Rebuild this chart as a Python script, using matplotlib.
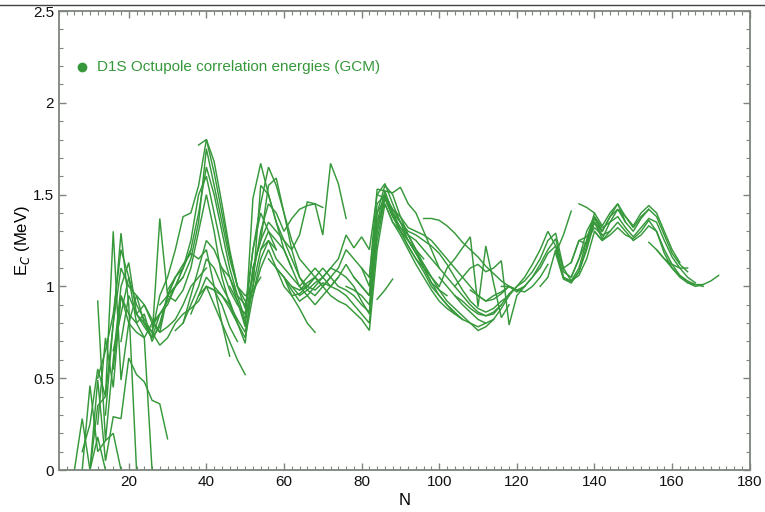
import numpy as np
import matplotlib
matplotlib.use('Agg')
from matplotlib import pyplot as plt
from matplotlib.lines import Line2D
from matplotlib.ticker import MultipleLocator

plt.rcParams['font.family'] = ['Liberation Sans', 'DejaVu Sans']

GREEN = '#36983a'
FRAME = '#7d857d'

# isotopic chains: (first neutron number, correlation energies in MeV at N, N+2, ...)
z08 = (6, [0.00, 0.28, 0.00, 0.18, 0.00])
z09 = (8, [0.00, 0.46, 0.10, 0.16, 0.20, 0.00])
z10 = (10, [0.00, 0.49, 0.05, 0.29, 0.28, 0.61, 0.52, 0.48, 0.38, 0.36, 0.17])
z11 = (12, [0.25, 0.72, 0.45, 0.95, 0.85, 0.80, 0.72, 0.00])
z12 = (8, [0.10, 0.25, 0.55, 0.40, 1.30, 0.49, 0.80, 0.75, 0.72, 0.80, 0.85])
z14 = (10, [0.00, 0.35, 0.40, 0.80, 1.29, 0.90, 0.00])
z16 = (12, [0.92, 0.16, 0.60, 1.00, 1.13, 0.85, 0.90, 0.80, 0.75, 0.95, 1.05])
z18 = (12, [0.50, 0.65, 0.85, 1.20, 1.05, 0.80, 0.85, 0.70, 0.80, 0.95, 1.00, 1.05])
z20 = (14, [0.30, 0.80, 1.10, 1.00, 0.95, 0.80, 0.72, 0.85, 0.90, 1.00, 1.10, 1.20])
z22 = (16, [0.55, 0.95, 0.80, 0.95, 0.90, 0.82, 0.75, 0.78, 0.82, 0.90, 1.00, 1.05, 1.10])
z24 = (16, [0.65, 0.85, 1.05, 0.90, 0.82, 0.75, 0.68, 0.72, 0.80, 0.85, 0.88, 0.92, 1.00,
            0.98, 0.90, 0.78, 0.70])
z26 = (18, [0.70, 0.95, 0.85, 0.78, 0.72, 1.37, 0.95, 0.92, 0.98, 1.10, 1.30, 1.50, 1.30,
            1.05, 0.90, 0.80])
z28 = (22, [0.85, 0.80, 0.72, 0.78, 0.95, 1.05, 1.12, 1.18, 1.15, 1.20, 1.00, 0.80, 0.62])
z30 = (24, [0.80, 0.75, 0.95, 1.05, 1.20, 1.38, 1.40, 1.55, 1.80, 1.68, 1.45, 1.20, 1.00,
            0.95, 0.98, 1.05])
z32 = (26, [0.78, 0.85, 0.92, 1.00, 1.05, 1.15, 1.35, 1.75, 1.55, 1.35, 1.15, 1.00, 0.88,
            1.20, 1.40, 1.30, 1.20])
z34 = (28, [0.90, 0.95, 1.00, 1.10, 1.20, 1.40, 1.65, 1.50, 1.30, 1.10, 0.95, 0.82, 1.00,
            1.55, 1.50, 1.35, 1.20, 1.10])
z36 = (30, [0.98, 1.05, 1.10, 1.25, 1.50, 1.60, 1.40, 1.20, 1.05, 0.92, 0.78, 1.48, 1.67,
            1.50, 1.35, 1.25, 1.15, 1.05, 1.00])
z38 = (32, [0.76, 0.80, 0.95, 1.10, 1.25, 1.20, 1.10, 0.98, 0.90, 0.85, 1.20, 1.45, 1.65,
            1.55, 1.40, 1.25, 1.15, 1.10, 1.05, 1.00])
z40 = (34, [0.80, 0.90, 1.00, 1.15, 1.10, 1.00, 0.92, 0.80, 0.69, 1.10, 1.25, 1.55, 1.59,
            1.40, 1.20, 1.05, 0.98, 0.95, 1.00, 1.05])
z42 = (36, [0.85, 0.95, 1.05, 1.00, 0.95, 0.90, 0.82, 0.75, 1.00, 1.20, 1.30, 1.25, 1.20,
            1.10, 1.00, 0.95, 0.90, 0.95, 1.00, 1.05])
z43 = (38, [0.95, 1.00, 0.90, 0.80, 0.70, 0.60, 0.52])
z44 = (38, [1.77, 1.80, 1.62, 1.40, 1.18, 1.00, 0.92, 0.95, 1.15, 1.25, 1.20])
z46 = (40, [1.00, 0.98, 0.95, 0.88, 0.80, 0.72, 0.95, 1.10, 1.20, 1.10, 1.00, 0.95, 0.88,
            0.80, 0.75])
z48 = (44, [1.10, 1.05, 0.95, 0.90, 1.05, 1.30, 1.45, 1.40, 1.30, 1.37, 1.42, 1.44, 1.45,
            1.43])
z50 = (46, [1.00, 0.92, 0.80, 1.10, 1.25, 1.35, 1.30, 1.25, 1.20, 1.28, 1.46, 1.45, 1.28,
            1.67, 1.56, 1.37])
z52 = (54, [1.20, 1.25, 1.15, 1.10, 1.05, 1.00, 1.05, 1.10, 1.05, 1.10, 1.15, 1.28, 1.21,
            1.27, 1.20, 1.50, 1.56, 1.45, 1.35, 1.25, 1.20, 1.15])
z54 = (56, [1.15, 1.10, 1.05, 1.00, 0.98, 1.02, 1.05, 1.00, 1.05, 1.10, 1.20, 1.15, 1.10,
            1.05, 1.53, 1.52, 1.40, 1.30, 1.22, 1.15, 1.10, 1.05])
z56 = (58, [1.10, 1.05, 0.95, 0.96, 1.00, 0.98, 1.02, 1.00, 1.05, 1.12, 1.05, 1.00, 0.95,
            1.40, 1.55, 1.50, 1.38, 1.28, 1.20, 1.12, 1.05, 1.00])
z58 = (60, [1.05, 0.98, 0.92, 0.95, 1.00, 1.05, 1.10, 1.08, 1.05, 1.00, 0.92, 0.85, 1.35,
            1.52, 1.51, 1.54, 1.45, 1.40, 1.30, 1.20, 1.10])
z60 = (62, [1.00, 0.95, 0.98, 1.02, 1.05, 1.00, 0.98, 0.95, 0.90, 0.85, 0.80, 1.30, 1.50,
            1.40, 1.32, 1.25, 1.18, 1.10, 1.02, 0.98, 0.95])
z62 = (64, [0.98, 1.00, 1.05, 1.00, 0.95, 0.92, 0.90, 0.86, 0.82, 0.76, 1.20, 1.45, 1.35,
            1.28, 1.20, 1.12, 1.05, 0.98, 0.92, 0.88, 0.85])
z64 = (66, [1.00, 1.05, 1.10, 1.05, 1.00, 0.98, 0.95, 0.90, 0.86, 1.25, 1.48, 1.38, 1.30,
            1.22, 1.15, 1.08, 1.00, 0.95, 0.90, 0.85, 0.82])
z65 = (84, [0.93, 0.98, 1.04])
z66 = (76, [1.00, 0.98, 0.95, 0.90, 1.30, 1.50, 1.42, 1.35, 1.28, 1.20, 1.10, 1.02, 0.95,
            0.90, 0.86, 0.82, 0.80, 0.78, 0.80])
z68 = (78, [1.05, 1.00, 0.95, 1.35, 1.45, 1.35, 1.30, 1.25, 1.18, 1.12, 1.05, 0.98, 0.92,
            0.88, 0.84, 0.80, 0.76, 0.78, 0.82])
z70 = (80, [1.10, 1.00, 1.40, 1.48, 1.38, 1.32, 1.28, 1.25, 1.20, 1.15, 1.10, 1.05, 1.00,
            0.95, 0.90, 0.86, 0.84, 0.85, 0.90])
z72 = (82, [1.05, 1.45, 1.50, 1.40, 1.35, 1.30, 1.28, 1.25, 1.22, 1.18, 1.12, 1.05, 0.98,
            0.92, 0.88, 0.86, 0.88, 0.92, 0.95])
z74 = (84, [1.50, 1.48, 1.42, 1.38, 1.32, 1.30, 1.28, 1.25, 1.20, 1.15, 1.10, 1.05, 1.00,
            0.95, 0.92, 0.93, 0.96, 1.00, 0.98])
z76 = (96, [1.37, 1.37, 1.36, 1.33, 1.29, 1.24, 1.20, 1.16, 1.11, 1.07, 1.03, 1.00, 0.98,
            0.97, 1.00, 1.05, 1.12])
z77 = (100, [1.00, 1.10, 1.15, 1.21, 1.27, 0.89, 1.22, 1.02, 0.83, 0.90])
z78 = (104, [1.00, 1.05, 1.10, 1.12, 1.08, 1.10, 1.14, 0.79, 0.95, 1.00])
z80 = (100, [1.05, 1.00, 0.95, 0.90, 0.86, 0.82, 0.80, 0.82, 0.88, 0.95, 1.00, 1.05, 1.12,
             1.20, 1.30, 1.22, 1.05, 1.02, 1.08, 1.20, 1.35, 1.28])
z82 = (104, [0.95, 0.92, 0.88, 0.85, 0.84, 0.86, 0.90, 0.96, 1.00, 1.03, 1.08, 1.15, 1.25,
             1.29, 1.10, 1.03, 1.06, 1.15, 1.30, 1.25, 1.30])
z84 = (108, [0.98, 0.95, 0.92, 0.95, 0.97, 1.00, 0.98, 1.00, 1.05, 1.12, 1.20, 1.26, 1.08,
             1.05, 1.15, 1.25, 1.38, 1.30, 1.38, 1.45, 1.35])
z86 = (116, [1.00, 1.00, 0.97, 1.00, 1.05, 1.10, 1.18, 1.22, 1.10, 1.13, 1.25, 1.23, 1.35,
             1.26, 1.35, 1.42, 1.38, 1.32, 1.38, 1.42])
z88 = (130, [1.18, 1.28, 1.41])
z90 = (134, [1.13, 1.25, 1.27, 1.35, 1.30])
z92 = (136, [1.45, 1.43, 1.40])
z96 = (126, [1.00, 1.05, 1.20, 1.05, 1.03, 1.10, 1.25, 1.40, 1.33, 1.40, 1.45, 1.38, 1.33,
             1.40, 1.44, 1.40, 1.30, 1.20, 1.13])
z98 = (130, [1.18, 1.04, 1.02, 1.08, 1.22, 1.37, 1.30, 1.38, 1.42, 1.35, 1.30, 1.37, 1.42,
             1.38, 1.28, 1.18, 1.12, 1.08])
z100 = (134, [1.05, 1.15, 1.30, 1.38, 1.32, 1.35, 1.38, 1.32, 1.27, 1.32, 1.37, 1.35, 1.25,
              1.16, 1.10, 1.05, 1.02])
z102 = (138, [1.25, 1.32, 1.28, 1.30, 1.35, 1.30, 1.25, 1.28, 1.33, 1.30, 1.20, 1.12, 1.06,
              1.02, 1.00, 1.01])
z104 = (140, [1.30, 1.25, 1.28, 1.32, 1.28, 1.26, 1.30, 1.36, 1.30, 1.18, 1.10, 1.05, 1.02,
              1.01, 1.01, 1.03, 1.06])
z106 = (154, [1.24, 1.20, 1.15, 1.12, 1.10, 1.10])
z108 = (156, [1.20, 1.15, 1.10, 1.06, 1.03, 1.01, 1.00])

chains = [z08, z09, z10, z11, z12, z14, z16, z18, z20, z22, z24, z26, z28, z30, z32, z34,
          z36, z38, z40, z42, z43, z44, z46, z48, z50, z52, z54, z56, z58, z60, z62, z64,
          z65, z66, z68, z70, z72, z74, z76, z77, z78, z80, z82, z84, z86, z88, z90, z92,
          z96, z98, z100, z102, z104, z106, z108]

legend_label = 'D1S Octupole correlation energies (GCM)'

fig = plt.figure(figsize=(7.65, 5.12), dpi=100)
ax = fig.add_axes([0.077, 0.082, 0.903, 0.8965])

for n0, energies in chains:
    n = n0 + 2 * np.arange(len(energies))
    ax.plot(n, energies, color=GREEN, lw=1.05, solid_joinstyle='miter')

ax.set_xlim(2, 180)
ax.set_ylim(0, 2.5)
ax.xaxis.set_major_locator(MultipleLocator(20))
ax.xaxis.set_minor_locator(MultipleLocator(2))
ax.yaxis.set_major_locator(MultipleLocator(0.5))
ax.yaxis.set_minor_locator(MultipleLocator(0.1))
ax.set_xticks([20, 40, 60, 80, 100, 120, 140, 160, 180])
ax.set_yticks([0, 0.5, 1, 1.5, 2, 2.5])
ax.set_yticklabels(['0', '0.5', '1', '1.5', '2', '2.5'])

ax.tick_params(which='both', direction='in', top=True, right=True, color=FRAME,
               labelsize=11, labelcolor='#111111')
ax.tick_params(which='major', length=5, width=1)
ax.tick_params(which='minor', length=3, width=0.8)
for sp in ax.spines.values():
    sp.set_color(FRAME)
    sp.set_linewidth(1.3)

ax.set_xlabel('N', fontsize=12, labelpad=3)
ax.set_ylabel('E$_C$ (MeV)', fontsize=12, labelpad=1)

# legend drawn by hand: dot and label
ax.plot([0.033], [0.878], 'o', color=GREEN, ms=6, transform=ax.transAxes, clip_on=False)
ax.text(0.055, 0.878, legend_label, color=GREEN, fontsize=11, va='center', ha='left',
        transform=ax.transAxes)

# thin rule across the top of the page
fig.add_artist(Line2D([0.0, 1.0], [0.99, 0.99], transform=fig.transFigure,
                      color='#444444', lw=1))

fig.savefig('out.png', dpi=100)
